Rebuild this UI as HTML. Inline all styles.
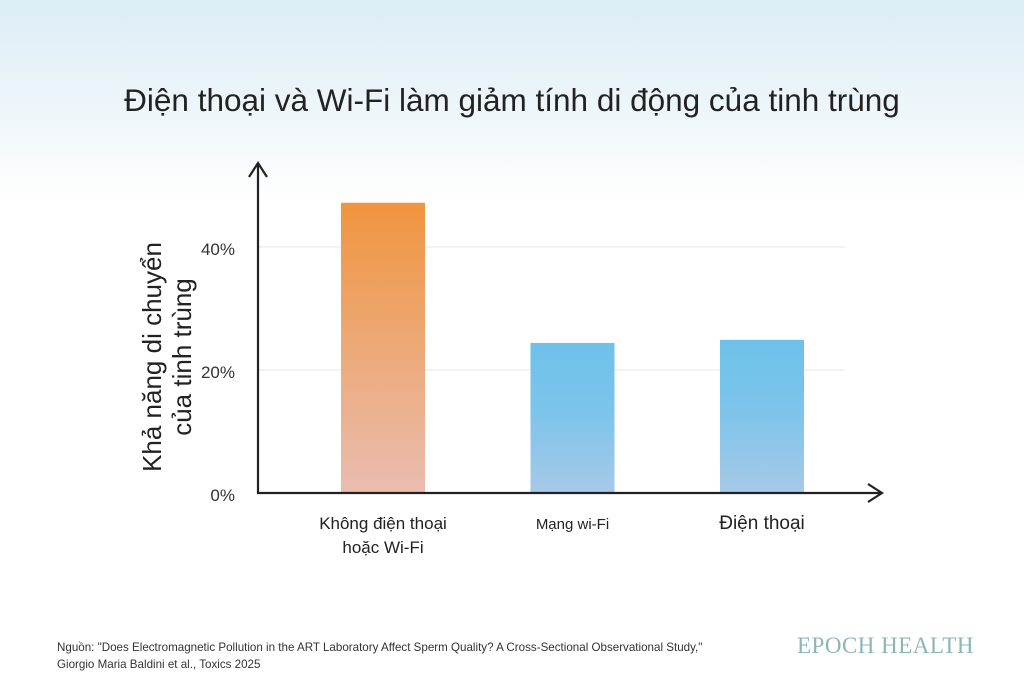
<!DOCTYPE html>
<html><head><meta charset="utf-8"><style>
body{margin:0;width:1024px;height:683px;overflow:hidden;background:linear-gradient(#dcedf6 0px,#eaf4f9 90px,#fff 200px,#fff 683px);font-family:"Liberation Sans",sans-serif;position:relative}
.t{position:absolute;white-space:nowrap}
</style></head><body>
<div class="t" style="left:0;width:1024px;text-align:center;top:82px;font-size:31.5px;color:#222">Điện thoại và Wi-Fi làm giảm tính di động của tinh trùng</div>
<svg id="c" width="1024" height="683" style="position:absolute;left:0;top:0">
<defs>
<linearGradient id="go" x1="0" y1="0" x2="0" y2="1"><stop offset="0" stop-color="#f0953f"/><stop offset="1" stop-color="#e9bdb0"/></linearGradient>
<linearGradient id="gb" x1="0" y1="0" x2="0" y2="1"><stop offset="0" stop-color="#6ec1ea"/><stop offset="0.45" stop-color="#7cc4eb"/><stop offset="1" stop-color="#a7c9e7"/></linearGradient>
</defs>
<g id="g"></g>
</svg>
<div class="t" style="left:167px;top:357px;transform:translate(-50%,-50%) rotate(-90deg);text-align:center;font-size:26px;line-height:30px;color:#222">Khả năng di chuyển<br>của tinh trùng</div>
<div class="t" style="left:57px;top:639px;font-size:11.6px;line-height:17px;color:#333">Nguồn: "Does Electromagnetic Pollution in the ART Laboratory Affect Sperm Quality? A Cross-Sectional Observational Study,"<br>Giorgio Maria Baldini et al., Toxics 2025</div>
<div class="t" style="left:797px;top:633px;font-family:'Liberation Serif',serif;font-size:23px;color:#8bb5b9;letter-spacing:0.5px">EPOCH HEALTH</div>
<script>
const categories=["Không điện thoại|hoặc Wi-Fi","Mạng wi-Fi","Điện thoại"];
const values=[47.2,24.4,24.9];
const ticks=[0,20,40];
const tickLabels=["0%","20%","40%"];
const NS="http://www.w3.org/2000/svg";
const g=document.getElementById('g');
const y=v=>493-v*6.15;
const x=i=>383+i*189.5;
function mk(t,a){const e=document.createElementNS(NS,t);for(const k in a)e.setAttribute(k,a[k]);g.appendChild(e);return e;}
ticks.forEach((t,i)=>{
 if(t>0){const l=mk('line',{x1:258,x2:845,y1:y(t),y2:y(t),stroke:'#e6e6e6','stroke-width':1});
 
 }
 const tx=mk('text',{x:235,y:y(t)+8,'text-anchor':'end','font-size':17,fill:'#333'});tx.textContent=tickLabels[i];
 
 
});
values.forEach((v,i)=>{
 const r=mk('rect',{x:x(i)-42,y:y(v),width:84,height:493-y(v),fill:i==0?'url(#go)':'url(#gb)'});
 
 
 const lines=categories[i].split('|');
 lines.forEach((s,j)=>{const tx=mk('text',{x:x(i),y:529+j*24,'text-anchor':'middle','font-size':i==1?15:(i==2?19:17),fill:'#222'});tx.textContent=s;
 
 });
});
const ax=mk('path',{d:'M258,165 L258,493 L880,493 M249,177 L258,163 L267,177 M868,484 L882,493 L868,502',fill:'none',stroke:'#222','stroke-width':2.2});


</script>
</body></html>
